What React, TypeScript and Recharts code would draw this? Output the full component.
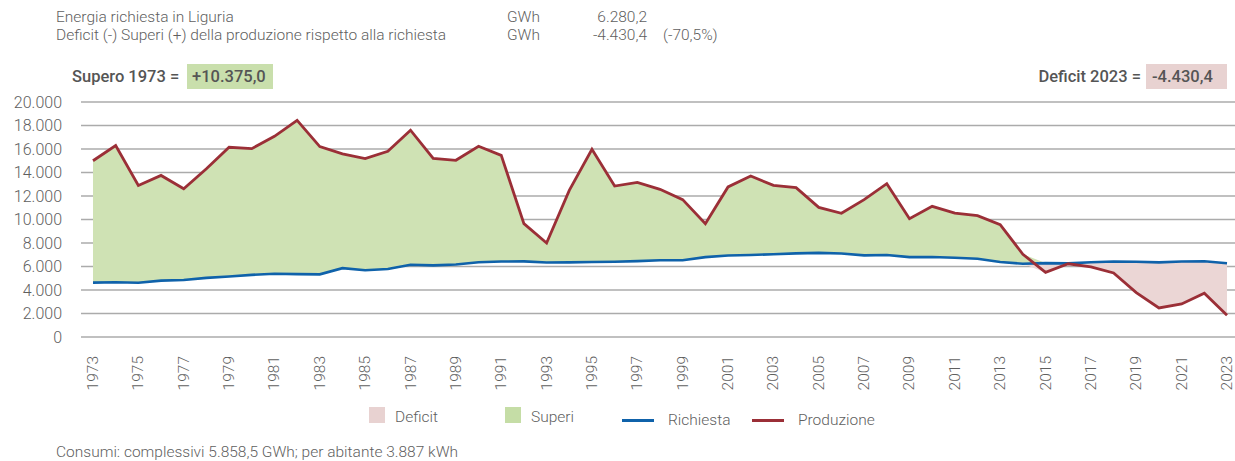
import React from 'react';
import { ComposedChart, Area, Line, XAxis, YAxis, CartesianGrid } from 'recharts';

const years = [
  1973, 1974, 1975, 1976, 1977, 1978, 1979, 1980, 1981, 1982,
  1983, 1984, 1985, 1986, 1987, 1988, 1989, 1990, 1991, 1992,
  1993, 1994, 1995, 1996, 1997, 1998, 1999, 2000, 2001, 2002,
  2003, 2004, 2005, 2006, 2007, 2008, 2009, 2010, 2011, 2012,
  2013, 2014, 2015, 2016, 2017, 2018, 2019, 2020, 2021, 2022,
  2023,
];

// GWh
const richiesta = [
  4625, 4660, 4620, 4800, 4850, 5030, 5150, 5290, 5380, 5350,
  5330, 5860, 5680, 5790, 6150, 6100, 6170, 6360, 6420, 6440,
  6340, 6350, 6380, 6410, 6460, 6530, 6530, 6800, 6940, 6980,
  7040, 7120, 7160, 7100, 6950, 6980, 6800, 6810, 6750, 6660,
  6380, 6240, 6290, 6270, 6360, 6430, 6410, 6350, 6430, 6450,
  6280,
];

const produzione = [
  15000, 16300, 12900, 13750, 12620, 14320, 16150, 16030, 17080, 18440,
  16200, 15580, 15180, 15800, 17600, 15210, 15040, 16230, 15460, 9650,
  8000, 12480, 15980, 12850, 13160, 12570, 11690, 9650, 12770, 13700,
  12910, 12710, 11030, 10530, 11690, 13050, 10070, 11120, 10550, 10330,
  9560, 7040, 5500, 6230, 5960, 5450, 3780, 2470, 2810, 3720,
  1850,
];

const yTicks = [0, 2000, 4000, 6000, 8000, 10000, 12000, 14000, 16000, 18000, 20000];
const xTicks = years.filter((y) => (y - 1973) % 2 === 0);

const data = years.map((year, i) => {
  const r = richiesta[i];
  const p = produzione[i];
  return {
    year,
    richiesta: r,
    produzione: p,
    superi: [r, Math.max(r, p)],
    deficit: [Math.min(r, p), r],
  };
});

const FONT = 'Roboto, "Liberation Sans", sans-serif';
const TXT = '#5f5f5f';

const fmt = (v: number) => v.toLocaleString('de-DE');

const YearTick = ({ x, y, payload }: any) => (
  <text
    x={x}
    y={y + 11}
    transform={`rotate(-90, ${x}, ${y + 11})`}
    textAnchor="end"
    dominantBaseline="central"
    fontSize={15.5}
    fontWeight={300}
    fill={TXT}
    fontFamily={FONT}
  >
    {payload.value}
  </text>
);

const abs = (left: number, top: number, extra: any = {}): React.CSSProperties => ({
  position: 'absolute',
  left,
  top,
  height: 20,
  lineHeight: '20px',
  whiteSpace: 'nowrap',
  ...extra,
});

const App = () => {
  return (
    <div
      style={{
        position: 'absolute',
        left: 0,
        top: 0,
        width: 1235,
        height: 461,
        fontFamily: FONT,
        fontWeight: 300,
        fontSize: 15.5,
        color: TXT,
        background: '#fff',
      }}
    >
      <div style={abs(56, 7)}>Energia richiesta in Liguria</div>
      <div style={abs(507, 7)}>GWh</div>
      <div style={abs(547, 7, { width: 100, textAlign: 'right' })}>6.280,2</div>
      <div style={abs(56, 25)}>Deficit (-) Superi (+) della produzione rispetto alla richiesta</div>
      <div style={abs(507, 25)}>GWh</div>
      <div style={abs(547, 25, { width: 100, textAlign: 'right' })}>-4.430,4</div>
      <div style={abs(663, 25)}>(-70,5%)</div>

      <div style={abs(72, 64, { height: 25, lineHeight: '25px', fontSize: 16.5, fontWeight: 500, color: '#555' })}>Supero 1973 =</div>
      <div
        style={abs(187, 64, {
          width: 86,
          height: 25,
          lineHeight: '25px',
          background: '#c9dfac',
          fontSize: 16.5,
          fontWeight: 500,
          color: '#555',
          paddingLeft: 5,
          boxSizing: 'border-box',
        })}
      >
        +10.375,0
      </div>
      <div style={abs(941, 64, { width: 200, textAlign: 'right', height: 25, lineHeight: '25px', fontSize: 16.5, fontWeight: 500, color: '#555' })}>
        Deficit 2023 =
      </div>
      <div
        style={abs(1146, 64, {
          width: 81,
          height: 25,
          lineHeight: '25px',
          background: '#e8d2d1',
          fontSize: 16.5,
          fontWeight: 500,
          color: '#555',
          paddingLeft: 6,
          boxSizing: 'border-box',
        })}
      >
        -4.430,4
      </div>

      <div style={{ position: 'absolute', left: 0, top: 0 }}>
        <ComposedChart
          width={1235}
          height={461}
          data={data}
          margin={{ top: 102, right: 0, bottom: 0, left: 0 }}
        >
          <CartesianGrid horizontal vertical={false} stroke="#ababab" strokeWidth={1.3} />
          <XAxis
            dataKey="year"
            type="number"
            domain={[1973, 2023]}
            ticks={xTicks}
            interval={0}
            padding={{ left: 12, right: 8 }}
            axisLine={false}
            tickLine={false}
            height={124}
            tick={<YearTick />}
          />
          <YAxis
            domain={[0, 20000]}
            ticks={yTicks}
            width={81}
            axisLine={false}
            tickLine={false}
            tickSize={0}
            tickMargin={19}
            tickFormatter={fmt}
            tick={{ fontSize: 16, fill: TXT, fontWeight: 300, fontFamily: FONT }}
          />
          <Area
            dataKey="superi"
            type="linear"
            stroke="none"
            fill="#cfe2b4"
            fillOpacity={1}
            isAnimationActive={false}
          />
          <Area
            dataKey="deficit"
            type="linear"
            stroke="none"
            fill="#ebd6d5"
            fillOpacity={1}
            isAnimationActive={false}
          />
          <Line
            dataKey="richiesta"
            type="linear"
            stroke="#0f62aa"
            strokeWidth={2.6}
            dot={false}
            isAnimationActive={false}
          />
          <Line
            dataKey="produzione"
            type="linear"
            stroke="#9b2f37"
            strokeWidth={2.8}
            dot={false}
            isAnimationActive={false}
          />
        </ComposedChart>
      </div>

      {/* legend */}
      <div style={{ position: 'absolute', left: 369, top: 407, width: 16, height: 16, background: '#e8d2d1' }} />
      <div style={abs(395, 407)}>Deficit</div>
      <div style={{ position: 'absolute', left: 505, top: 407, width: 16, height: 16, background: '#c5dda6' }} />
      <div style={abs(531, 407)}>Superi</div>
      <div style={{ position: 'absolute', left: 622, top: 418.5, width: 32, height: 3, background: '#0f62aa' }} />
      <div style={abs(668, 410)}>Richiesta</div>
      <div style={{ position: 'absolute', left: 752, top: 418.5, width: 32, height: 3, background: '#9b2f37' }} />
      <div style={abs(798, 410)}>Produzione</div>

      <div style={abs(56, 442)}>Consumi: complessivi 5.858,5 GWh; per abitante 3.887 kWh</div>
    </div>
  );
};

export default App;
